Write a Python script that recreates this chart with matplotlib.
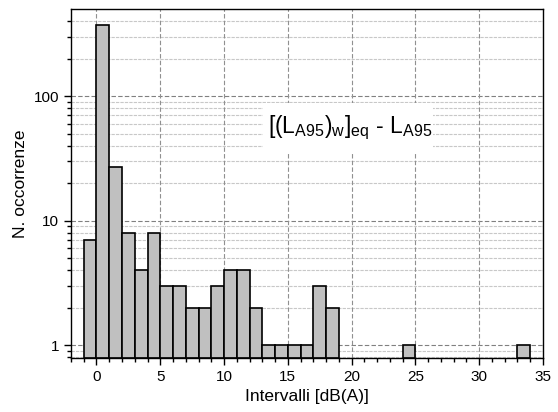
import numpy as np
import matplotlib.pyplot as plt
import matplotlib._mathtext as mt
from matplotlib.patches import Rectangle
from matplotlib.ticker import MultipleLocator, FixedLocator, FixedFormatter, NullFormatter

plt.rcParams["font.family"] = ["Liberation Sans", "DejaVu Sans"]
plt.rcParams["mathtext.fontset"] = "custom"
plt.rcParams["mathtext.rm"] = "Liberation Sans"
plt.rcParams["mathtext.it"] = "Liberation Sans:italic"
# push subscripts lower, like the original label
mt.FontConstantsBase.subdrop = 0.85

# histogram bins (left edge, dB(A)) and occurrence counts
bin_left = [-1, 0, 1, 2, 3, 4, 5, 6, 7, 8, 9, 10, 11, 12, 13, 14, 15, 16, 17, 18, 24, 33]
counts = [7, 370, 27, 8, 4, 8, 3, 3, 2, 2, 3, 4, 4, 2, 1, 1, 1, 1, 3, 2, 1, 1]

ybot = 0.787

fig = plt.figure(figsize=(5.58, 4.12), dpi=100)
ax = fig.add_axes([0.1272, 0.131, 0.9731 - 0.1272, 0.9782 - 0.131])

ax.set_yscale("log")
ax.set_xlim(-2, 35)
ax.set_ylim(ybot, 500)

# grid
for y in [1, 10, 100]:
    ax.axhline(y, color="#808080", linestyle=(0, (4, 2)), linewidth=0.8, zorder=0)
minor_y = [m * d for d in [0.1, 1, 10, 100] for m in range(2, 10) if ybot < m * d < 500]
for y in minor_y:
    ax.axhline(y, color="#c8c8c8", linestyle=(0, (3, 1)), linewidth=0.8, zorder=0)
for x in range(0, 35, 5):
    ax.axvline(x, color="#909090", linestyle=(0, (4, 2)), linewidth=0.8, zorder=0)

heights = np.array(counts, dtype=float) - ybot
ax.bar(bin_left, heights, width=1, align="edge", bottom=ybot,
       facecolor="#c0c0c0", edgecolor="black", linewidth=1.2, zorder=2)

ax.xaxis.set_major_locator(MultipleLocator(5))
ax.xaxis.set_minor_locator(MultipleLocator(1))
ax.yaxis.set_major_locator(FixedLocator([1, 10, 100]))
ax.yaxis.set_major_formatter(FixedFormatter(["1", "10", "100"]))
ax.yaxis.set_minor_locator(FixedLocator(minor_y))
ax.yaxis.set_minor_formatter(NullFormatter())

ax.tick_params(which="major", direction="out", length=5, width=1, labelsize=11)
ax.tick_params(which="minor", direction="out", length=3, width=1)
for s in ax.spines.values():
    s.set_linewidth(1.0)
    s.set_zorder(3)

ax.set_xlabel("Intervalli [dB(A)]", fontsize=12.5)
ax.set_ylabel("N. occorrenze", fontsize=12.5)

# white box behind the formula
ax.add_patch(Rectangle((0.407, 0.590), 0.36, 0.141, transform=ax.transAxes,
                       facecolor="white", edgecolor="none", zorder=1))
ax.text(0.417, 0.645,
        r"$[(\mathrm{L}_{\mathrm{A95}})_{\mathrm{w}}]_{\mathrm{eq}}$ - L$_{\mathrm{A95}}$",
        transform=ax.transAxes, fontsize=16.5, ha="left", va="baseline", zorder=4)

fig.savefig("out.png", dpi=100)
